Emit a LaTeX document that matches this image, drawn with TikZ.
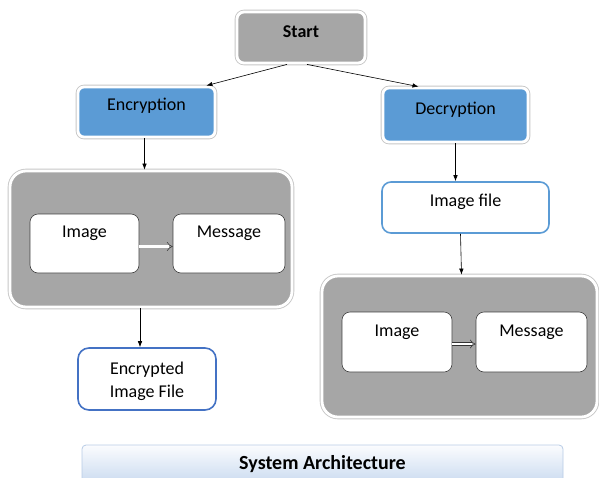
\documentclass[tikz,border=0pt]{standalone}
\usepackage{fontspec}
\setmainfont{Carlito}
\usetikzlibrary{arrows.meta,calc}

\definecolor{boxgray}{HTML}{A6A6A6}
\definecolor{stepblue}{HTML}{5B9BD5}
\definecolor{edgeblue}{HTML}{4472C4}
\definecolor{lightedge}{HTML}{5B9BD5}
\definecolor{bandtop}{HTML}{FBFCFE}
\definecolor{bandbot}{HTML}{C3D6EE}
\definecolor{bandedge}{HTML}{B7CBE6}

\tikzset{
  halo/.style={preaction={draw=black!22, line width=4.6pt}, draw=white, line width=2.8pt},
  graybox/.style={halo, fill=boxgray, rounded corners=7pt},
  bluebox/.style={halo, fill=stepblue, rounded corners=6pt},
  panel/.style={halo, fill=boxgray, rounded corners=16pt},
  filebox/.style={draw=#1, line width=1.6pt, fill=white, rounded corners=9pt},
  innerbox/.style={draw=black!75, line width=0.6pt, fill=white, rounded corners=8pt},
  lbl/.style={font=\fontsize{18}{21}\selectfont, inner sep=0pt},
  flow/.style={line width=0.6pt, -{Latex[length=6pt,width=4.5pt]}},
  pass/.style={double=white, double distance=2.6pt, line width=0.5pt, draw=black!80,
               -{Implies[length=4pt]}},
}

\begin{document}
\begin{tikzpicture}[x=1pt, y=-1pt]
\useasboundingbox (0,0) rectangle (599,477);
\clip (0,0) rectangle (599,477);

% top node
\node[graybox, minimum width=128pt, minimum height=51pt] (start) at (301,37.5) {};
\node[lbl, font=\fontsize{18}{21}\selectfont\bfseries] (startt) at (301,32) {Start};

% two branches
\node[bluebox, minimum width=137pt, minimum height=50pt] (enc) at (146.5,112) {};
\node[lbl] (enct) at (146.5,106) {Encryption};
\node[bluebox, minimum width=145pt, minimum height=54pt] (dec) at (455.5,115) {};
\node[lbl] (dect) at (455.5,110) {Decryption};

% encryption panel
\node[panel, minimum width=282pt, minimum height=136pt] (panL) at (151,239) {};
\node[innerbox, minimum width=109pt, minimum height=59pt] (imgL) at (84.5,243.5) {};
\node[lbl] (imgLt) at (84.5,233) {Image};
\node[innerbox, minimum width=112pt, minimum height=59pt] (msgL) at (229,243.5) {};
\node[lbl] (msgLt) at (229,233) {Message};

% encrypted output
\node[filebox=edgeblue, minimum width=138pt, minimum height=62pt, rounded corners=11pt] (encf) at (147,379) {};
\node[lbl, align=center, font=\fontsize{18}{23}\selectfont] (encft) at (147,381.5) {Encrypted\\Image File};

% decryption input
\node[filebox=lightedge, minimum width=167pt, minimum height=51pt] (imgf) at (465.5,207.5) {};
\node[lbl] (imgft) at (465.5,202) {Image file};

% decryption panel
\node[panel, minimum width=275pt, minimum height=141pt] (panR) at (459.5,346.5) {};
\node[innerbox, minimum width=110pt, minimum height=60pt] (imgR) at (397,342) {};
\node[lbl] (imgRt) at (397,332) {Image};
\node[innerbox, minimum width=111pt, minimum height=60pt] (msgR) at (531.5,342) {};
\node[lbl] (msgRt) at (531.5,332) {Message};

% caption band
\node[draw=bandedge, line width=0.8pt, top color=bandtop, bottom color=bandbot,
      rounded corners=4pt, minimum width=481pt, minimum height=44pt] (band) at (322.5,467) {};
\node[lbl, font=\fontsize{20}{24}\selectfont\bfseries] (bandt) at (322.5,464) {System Architecture};

% connectors
\draw[flow] ([xshift=-14pt]start.south) -- ([xshift=-10pt]enc.north east);
\draw[flow] ([xshift=6pt]start.south) -- ([xshift=-37pt]dec.north);
\draw[flow] ([xshift=-2pt]enc.south) -- ([xshift=-2pt]enc.south |- panL.north);
\draw[flow] ([xshift=-7pt]encf.north |- panL.south) -- ([xshift=-7pt]encf.north);
\draw[flow] (dec.south) -- (dec.south |- imgf.north);
\draw[flow] ([xshift=-5pt]imgf.south) -- ([xshift=2pt]panR.north);
\draw[pass] ([yshift=-3pt]imgL.east) -- ([yshift=-3pt]msgL.west);
\draw[pass] ([yshift=-2pt]imgR.east) -- ([yshift=-2pt]msgR.west);
\end{tikzpicture}
\end{document}
